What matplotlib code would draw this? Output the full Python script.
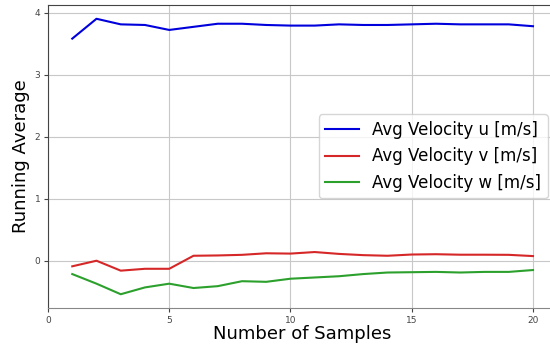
import numpy as np
import matplotlib
matplotlib.use("Agg")
import matplotlib.pyplot as plt
from matplotlib.ticker import MultipleLocator

samples = list(range(1, 21))
avg_u = [3.58, 3.90, 3.81, 3.80, 3.72, 3.77, 3.82, 3.82, 3.80, 3.79,
         3.79, 3.81, 3.80, 3.80, 3.81, 3.82, 3.81, 3.81, 3.81, 3.78]
avg_v = [-0.09, 0.00, -0.16, -0.13, -0.13, 0.08, 0.085, 0.095, 0.12, 0.115,
         0.14, 0.11, 0.09, 0.08, 0.10, 0.105, 0.097, 0.097, 0.095, 0.075]
avg_w = [-0.215, -0.37, -0.54, -0.43, -0.37, -0.44, -0.41, -0.33, -0.34, -0.29,
         -0.27, -0.25, -0.215, -0.19, -0.185, -0.18, -0.19, -0.18, -0.18, -0.15]
labels = ["Avg Velocity u [m/s]", "Avg Velocity v [m/s]", "Avg Velocity w [m/s]"]
colors = ["#0000dd", "#d62728", "#2ca02c"]

fig = plt.figure(figsize=(5.5, 3.45), dpi=100)
# axes box runs slightly past the right edge of the canvas
ax = fig.add_axes([48 / 550, 1 - 308 / 345, (556 - 48) / 550, (308 - 5) / 345])

for vals, lab, col in zip([avg_u, avg_v, avg_w], labels, colors):
    ax.plot(samples, vals, color=col, lw=1.5, label=lab)

ax.set_xlim(left=0)
ax.xaxis.set_major_locator(MultipleLocator(5))
ax.yaxis.set_major_locator(MultipleLocator(1))
ax.grid(True, color="#c8c8c8", lw=0.8)
ax.set_axisbelow(True)
for side in ["left", "top", "bottom", "right"]:
    ax.spines[side].set_color("#444444")
ax.spines["bottom"].set_color("#888888")
ax.tick_params(labelsize=6.5, colors="#444444", length=3, width=0.8, pad=2.5)
ax.set_xlabel("Number of Samples", fontsize=13, labelpad=0.5)
ax.set_ylabel("Running Average", fontsize=13, labelpad=3.5)
ax.legend(loc="center right", fontsize=12, frameon=True, handlelength=2)

fig.savefig("out.png", dpi=100)
